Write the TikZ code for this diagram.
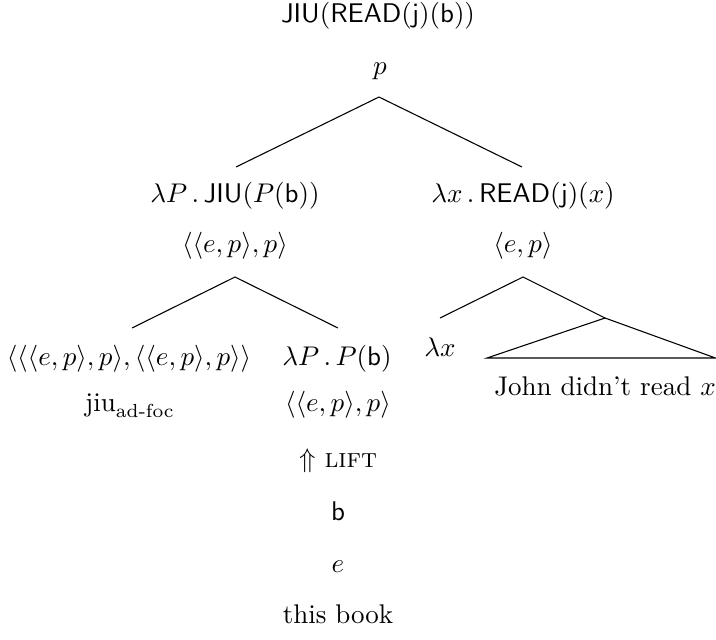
\documentclass[tikz,border=0pt]{standalone}
\usepackage{amsmath}
\begin{document}
\begin{tikzpicture}[x=0.3704pt,y=-0.3704pt,
  lbl/.style={anchor=base,inner sep=0pt},
  edge/.style={line width=0.4pt}]
\useasboundingbox (0,0) rectangle (716,639);
% texts
\node[lbl] (top) at (378,22) {$\mathsf{JIU}(\mathsf{READ}(\mathsf{j})(\mathsf{b}))$};
\node[lbl] (root) at (380,74) {$p$};
\node[lbl] (lsem) at (235,202) {$\lambda P\,.\,\mathsf{JIU}(P(\mathsf{b}))$};
\node[lbl] (ltype) at (235,252) {$\langle\langle e,p\rangle,p\rangle$};
\node[lbl] (rsem) at (523,202) {$\lambda x\,.\,\mathsf{READ}(\mathsf{j})(x)$};
\node[lbl] (rtype) at (523,252) {$\langle e,p\rangle$};
\node[lbl] (lltype) at (129,365) {$\langle\langle\langle e,p\rangle,p\rangle,\langle\langle e,p\rangle,p\rangle\rangle$};
\node[lbl] (jiu) at (130,411) {$\textrm{jiu}_{\textrm{ad-foc}}$};
\node[lbl] (lrsem) at (337,365) {$\lambda P\,.\,P(\mathsf{b})$};
\node[lbl] (lrtype) at (338,411) {$\langle\langle e,p\rangle,p\rangle$};
\node[lbl] (lift) at (338,467) {$\Uparrow$ \textsc{lift}};
\node[lbl] (bb) at (338,520) {$\mathsf{b}$};
\node[lbl] (ee) at (338,572) {$e$};
\node[lbl] (book) at (338,623) {this book};
\node[lbl] (lamx) at (440,356) {$\lambda x$};
\node[lbl] (john) at (605,395) {John didn't read $x$};
% branch points
\coordinate (a0) at (379,97);
\coordinate (a0l) at (236,167);
\coordinate (a0r) at (522,167);
\coordinate (a1) at (235,277);
\coordinate (a1l) at (132,328);
\coordinate (a1r) at (338,328);
\coordinate (a2) at (523,277);
\coordinate (a2l) at (440,318);
\coordinate (a2r) at (605,318);
\coordinate (t1) at (487,358);
\coordinate (t2) at (715.5,358);
% edges
\draw[edge] (a0l) -- (a0) -- (a0r);
\draw[edge] (a1l) -- (a1) -- (a1r);
\draw[edge] (a2l) -- (a2) -- (a2r);
\draw[edge] (a2r) -- (t1) -- (t2) -- cycle;
\end{tikzpicture}
\end{document}
